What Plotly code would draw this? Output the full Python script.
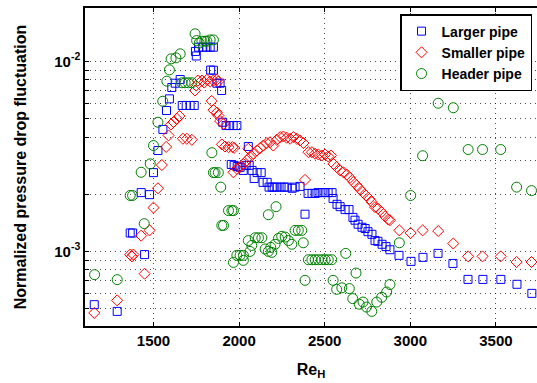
import plotly.graph_objects as go

# ---- data ----
larger_re = [1154, 1288, 1364, 1378, 1428, 1448, 1477, 1500, 1526, 1555, 1576, 1593, 1607, 1627, 1656,
             1668, 1691, 1714, 1738, 1745, 1750, 1763, 1788, 1812, 1831, 1850, 1834, 1850, 1870, 1889,
             1898, 1904, 1924, 1945, 1965, 1987, 2054, 1954, 1971, 1989, 2006, 2024, 2041, 2059, 2076,
             2088, 2105, 2129, 2140, 2164, 2175, 2193, 2205, 2222, 2245, 2263, 2280, 2310, 2327, 2356,
             2385, 2403, 2426, 2444, 2461, 2485, 2502, 2520, 2543, 2549, 2572, 2590, 2619, 2642, 2665,
             2677, 2695, 2718, 2736, 2753, 2776, 2794, 2811, 2835, 2858, 2881, 2934, 3004, 3074, 3162,
             3249, 3337, 3424, 3529, 3623, 3710]
larger_val = [5.24e-4, 4.83e-4, 1.25e-3, 1.25e-3, 2.04e-3, 9.62e-4, 1.99e-3, 2.60e-3, 3.40e-3, 4.39e-3,
              5.52e-3, 6.36e-3, 7.30e-3, 7.69e-3, 8.04e-3, 5.87e-3, 5.87e-3, 5.87e-3, 5.87e-3, 1.13e-2,
              1.07e-2, 1.19e-2, 1.19e-2, 1.19e-2, 1.19e-2, 1.19e-2, 9.02e-3, 9.00e-3, 7.69e-3, 7.69e-3,
              7.04e-3, 4.79e-3, 4.60e-3, 4.60e-3, 4.60e-3, 4.60e-3, 3.57e-3, 2.87e-3, 2.84e-3, 2.80e-3,
              2.77e-3, 2.67e-3, 2.84e-3, 2.84e-3, 2.67e-3, 2.42e-3, 2.60e-3, 2.60e-3, 2.31e-3, 2.31e-3,
              2.18e-3, 2.18e-3, 2.18e-3, 2.18e-3, 2.18e-3, 2.18e-3, 2.18e-3, 2.15e-3, 2.18e-3, 2.20e-3,
              1.57e-3, 2.02e-3, 2.02e-3, 2.02e-3, 2.04e-3, 2.04e-3, 2.04e-3, 2.04e-3, 2.04e-3, 1.90e-3,
              1.77e-3, 1.72e-3, 1.66e-3, 1.66e-3, 1.51e-3, 1.46e-3, 1.39e-3, 1.34e-3, 1.32e-3, 1.27e-3,
              1.23e-3, 1.14e-3, 1.13e-3, 1.09e-3, 1.06e-3, 1.02e-3, 9.53e-4, 8.86e-4, 9.30e-4, 9.76e-4,
              8.64e-4, 7.12e-4, 7.12e-4, 7.12e-4, 6.71e-4, 6.01e-4]

smaller_re = [1154, 1288, 1364, 1374, 1383, 1428, 1448, 1477, 1500, 1526, 1549, 1574, 1588, 1602, 1617,
              1637, 1652, 1672, 1695, 1724, 1743, 1749, 1759, 1783, 1796, 1812, 1831, 1850, 1870, 1879,
              1840, 1850, 1870, 1879, 1889, 1909, 1899, 1918, 1938, 1961, 1971, 1967, 1987, 2006, 2025,
              2045, 2054, 2064, 2084, 2104, 2123, 2142, 2162, 2181, 2200, 2220, 2240, 2259, 2278, 2298,
              2317, 2337, 2356, 2376, 2385, 2405, 2425, 2444, 2463, 2483, 2502, 2521, 2537, 2551, 2570,
              2590, 2609, 2629, 2648, 2667, 2687, 2703, 2722, 2741, 2761, 2775, 2794, 2811, 2833, 2852,
              2872, 2881, 2936, 3002, 3072, 3163, 3251, 3338, 3422, 3528, 3621, 3708]
smaller_val = [4.74e-4, 5.52e-4, 9.62e-4, 9.41e-4, 9.62e-4, 1.21e-3, 7.63e-4, 1.29e-3, 1.70e-3, 2.15e-3,
               2.85e-3, 3.55e-3, 4.08e-3, 4.66e-3, 4.80e-3, 4.99e-3, 5.17e-3, 3.92e-3, 3.92e-3, 3.87e-3,
               7.04e-3, 7.47e-3, 7.94e-3, 7.94e-3, 7.75e-3, 8.01e-3, 7.85e-3, 7.94e-3, 8.01e-3, 7.85e-3,
               6.20e-3, 5.55e-3, 5.39e-3, 5.20e-3, 4.86e-3, 4.70e-3, 3.66e-3, 3.57e-3, 3.54e-3, 3.54e-3,
               3.51e-3, 2.61e-3, 2.72e-3, 2.78e-3, 2.89e-3, 3.01e-3, 3.47e-3, 3.14e-3, 3.27e-3, 3.40e-3,
               3.50e-3, 3.61e-3, 3.72e-3, 3.76e-3, 3.61e-3, 3.87e-3, 4.00e-3, 4.03e-3, 3.97e-3, 3.92e-3,
               4.00e-3, 3.92e-3, 3.84e-3, 3.72e-3, 2.38e-3, 3.33e-3, 3.33e-3, 3.27e-3, 3.24e-3, 3.20e-3,
               3.24e-3, 3.16e-3, 3.20e-3, 2.89e-3, 2.78e-3, 2.67e-3, 2.61e-3, 2.54e-3, 2.44e-3, 2.32e-3,
               2.23e-3, 2.14e-3, 2.05e-3, 1.97e-3, 1.89e-3, 1.82e-3, 1.71e-3, 1.68e-3, 1.61e-3, 1.53e-3,
               1.47e-3, 1.46e-3, 1.29e-3, 1.25e-3, 1.29e-3, 1.28e-3, 1.10e-3, 9.41e-4, 9.41e-4, 9.41e-4,
               8.79e-4, 8.79e-4]

header_re = [1156, 1288, 1364, 1378, 1428, 1446, 1481, 1500, 1526, 1554, 1578, 1593, 1603, 1631, 1656,
             1666, 1685, 1704, 1724, 1743, 1752, 1767, 1783, 1800, 1812, 1831, 1850, 1841, 1850, 1860,
             1879, 1893, 1899, 1909, 1938, 1958, 1967, 1967, 1987, 2006, 2025, 2025, 2054, 2064, 2074,
             2094, 2113, 2133, 2152, 2171, 2191, 2185, 2210, 2230, 2249, 2269, 2288, 2308, 2171, 2216,
             2327, 2346, 2366, 2375, 2385, 2405, 2425, 2444, 2463, 2483, 2502, 2521, 2541, 2549, 2570,
             2600, 2623, 2644, 2664, 2683, 2702, 2724, 2744, 2775, 2804, 2833, 2862, 2881, 2936, 3002,
             3072, 3163, 3251, 3338, 3422, 3528, 3621, 3708]
header_val = [7.54e-4, 7.10e-4, 1.97e-3, 1.97e-3, 2.61e-3, 1.40e-3, 2.89e-3, 3.61e-3, 4.79e-3, 6.18e-3,
              7.88e-3, 9.04e-3, 1.033e-2, 1.046e-2, 1.098e-2, 7.73e-3, 7.73e-3, 7.73e-3, 7.73e-3, 1.40e-2,
              1.29e-2, 1.25e-2, 1.28e-2, 1.28e-2, 1.28e-2, 1.30e-2, 1.30e-2, 3.31e-3, 2.60e-3, 2.60e-3,
              2.60e-3, 2.18e-3, 1.37e-3, 1.37e-3, 1.64e-3, 1.64e-3, 1.64e-3, 8.75e-4, 9.53e-4, 9.53e-4,
              9.53e-4, 8.97e-4, 1.14e-3, 1.00e-3, 1.075e-3, 1.18e-3, 1.18e-3, 1.18e-3, 1.03e-3, 1.00e-3,
              9.88e-4, 1.05e-3, 1.09e-3, 1.17e-3, 1.20e-3, 1.19e-3, 1.14e-3, 1.09e-3, 1.56e-3, 1.72e-3,
              1.29e-3, 1.29e-3, 1.29e-3, 1.11e-3, 7.04e-4, 9.04e-4, 9.04e-4, 9.04e-4, 9.04e-4, 9.04e-4,
              9.04e-4, 9.04e-4, 9.04e-4, 7.04e-4, 6.31e-4, 6.43e-4, 9.76e-4, 6.37e-4, 5.64e-4, 7.69e-4,
              5.27e-4, 5.41e-4, 5.09e-4, 4.83e-4, 5.41e-4, 5.73e-4, 6.11e-4, 6.69e-4, 1.11e-3, 1.97e-3,
              3.19e-3, 6.03e-3, 5.71e-3, 3.44e-3, 3.44e-3, 3.44e-3, 2.18e-3, 2.09e-3]

x_ticks = [1500, 2000, 2500, 3000, 3500]
y_ticks = [4e-4, 5e-4, 6e-4, 7e-4, 8e-4, 9e-4, 1e-3, 2e-3, 3e-3, 4e-3, 5e-3, 6e-3, 7e-3, 8e-3, 9e-3, 1e-2]
y_ticktext = ["" if v not in (1e-3, 1e-2) else ("10<sup>-3</sup>" if v == 1e-3 else "10<sup>-2</sup>")
              for v in y_ticks]

FONT = "Liberation Sans, Arial, sans-serif"

fig = go.Figure()
fig.add_trace(go.Scatter(x=larger_re, y=larger_val, mode="markers", name="Larger pipe",
                         marker=dict(symbol="square-open", size=8, color="#0000ff", line=dict(width=1))))
fig.add_trace(go.Scatter(x=smaller_re, y=smaller_val, mode="markers", name="Smaller pipe",
                         marker=dict(symbol="diamond-open", size=8.5, color="#ff0000", line=dict(width=1))))
fig.add_trace(go.Scatter(x=header_re, y=header_val, mode="markers", name="Header pipe",
                         marker=dict(symbol="circle-open", size=10, color="#008000", line=dict(width=1))))

fig.update_layout(
    width=537, height=383,
    margin=dict(l=85, r=0, t=8, b=57),
    paper_bgcolor="white", plot_bgcolor="white",
    font=dict(family=FONT, color="black", size=13, weight="bold"),
    showlegend=True,
    legend=dict(x=0.697, y=0.981, xanchor="left", yanchor="top",
                bgcolor="white", bordercolor="black", borderwidth=1.5,
                font=dict(size=14, family=FONT, weight="bold"),
                tracegroupgap=0, itemwidth=30),
)
fig.update_xaxes(
    range=[1100, 3740], tickvals=x_ticks, ticktext=[str(v) for v in x_ticks],
    showline=True, linecolor="black", linewidth=1.5, mirror="ticks",
    ticks="inside", ticklen=4, tickcolor="black",
    showgrid=True, gridcolor="rgba(0,0,0,0.7)", gridwidth=1, griddash="1px,4px",
    zeroline=False,
    tickfont=dict(size=15, family=FONT, weight="bold"),
    title=dict(text="Re<sub>H</sub>", font=dict(size=16, family=FONT, weight="bold"), standoff=16),
)
fig.update_yaxes(
    type="log", range=[-3.393, -1.718], tickvals=y_ticks, ticktext=y_ticktext,
    showline=True, linecolor="black", linewidth=1.5,
    ticks="inside", ticklen=4, tickcolor="black",
    showgrid=True, gridcolor="rgba(0,0,0,0.7)", gridwidth=1, griddash="1px,4px",
    zeroline=False,
    tickfont=dict(size=15, family=FONT, weight="bold"),
    title=dict(text="Normalized pressure drop fluctuation", font=dict(size=16, family=FONT, weight="bold"),
               standoff=24),
)

fig.write_html("out.html")
